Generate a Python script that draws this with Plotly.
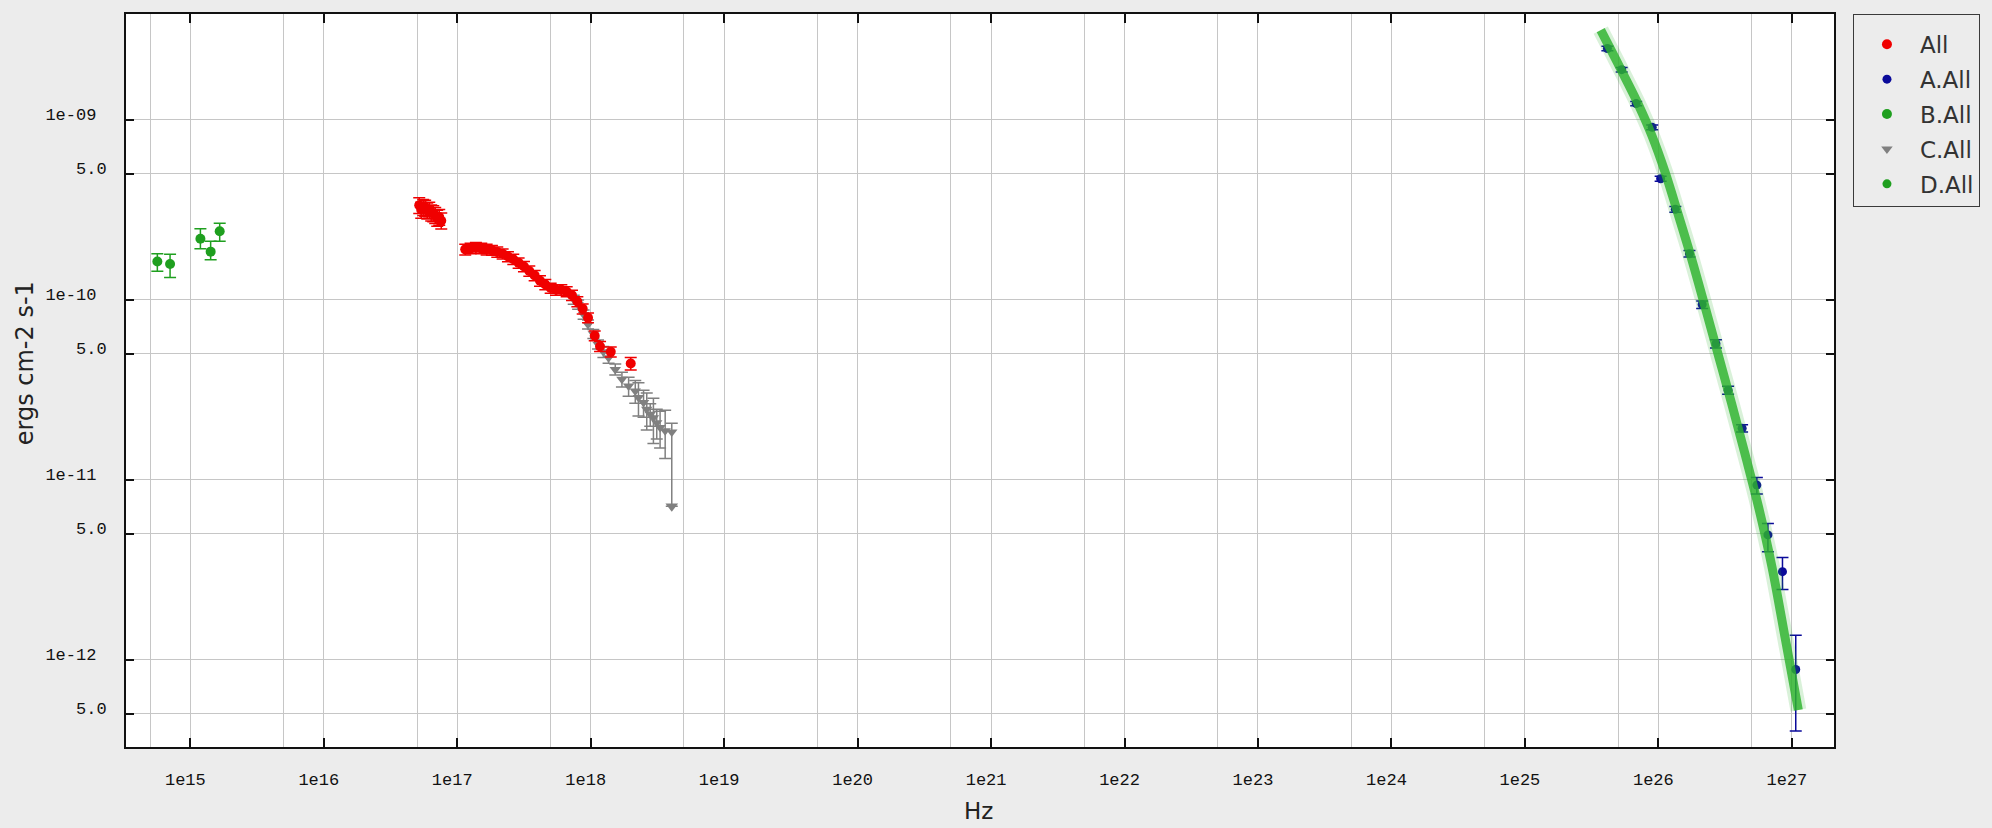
import plotly.graph_objects as go

# ---------------- data ----------------
# "All" (red) - X-ray
all_nu = [5.19e16, 5.37e16, 5.56e16, 5.75e16, 5.96e16, 6.17e16, 6.38e16, 6.61e16, 6.84e16, 7.08e16, 7.33e16, 7.59e16,
          1.148e17, 1.259e17, 1.380e17, 1.514e17, 1.660e17, 1.820e17, 1.995e17, 2.188e17, 2.399e17, 2.630e17,
          2.884e17, 3.162e17, 3.467e17, 3.802e17, 4.169e17, 4.571e17, 5.012e17, 5.495e17, 6.026e17, 6.607e17,
          7.244e17, 7.943e17, 8.710e17, 9.550e17, 1.072e18, 1.175e18, 1.413e18, 1.995e18]
all_flux = [3.35e-10, 3.16e-10, 3.27e-10, 3.24e-10, 3.13e-10, 3.16e-10, 3.05e-10, 3.02e-10, 2.95e-10, 2.85e-10, 2.88e-10, 2.75e-10,
            1.905e-10, 1.928e-10, 1.950e-10, 1.928e-10, 1.905e-10, 1.884e-10, 1.841e-10, 1.799e-10, 1.738e-10, 1.679e-10,
            1.603e-10, 1.531e-10, 1.445e-10, 1.365e-10, 1.274e-10, 1.216e-10, 1.161e-10, 1.135e-10, 1.135e-10, 1.109e-10,
            1.059e-10, 9.77e-11, 8.91e-11, 7.94e-11, 6.31e-11, 5.50e-11, 5.13e-11, 4.42e-11]
all_err = [0.34e-10, 0.32e-10, 0.33e-10, 0.33e-10, 0.32e-10, 0.32e-10, 0.31e-10, 0.31e-10, 0.30e-10, 0.29e-10, 0.29e-10, 0.28e-10,
           0.13e-10, 0.13e-10, 0.13e-10, 0.13e-10, 0.13e-10, 0.12e-10, 0.12e-10, 0.115e-10, 0.11e-10, 0.11e-10,
           0.105e-10, 0.10e-10, 0.095e-10, 0.09e-10, 0.085e-10, 0.08e-10, 0.075e-10, 0.075e-10, 0.075e-10, 0.07e-10,
           0.07e-10, 0.62e-11, 0.57e-11, 0.50e-11, 0.40e-11, 0.35e-11, 0.33e-11, 0.35e-11]

# "A.All" (blue) - gamma rays
a_nu = [4.15e25, 5.31e25, 6.82e25, 8.99e25, 1.04e26, 1.34e26, 1.71e26, 2.13e26, 2.70e26, 3.33e26,
        4.24e26, 5.47e26, 6.62e26, 8.51e26, 1.07e27]
a_flux = [2.49e-9, 1.90e-9, 1.23e-9, 9.08e-10, 4.70e-10, 3.18e-10, 1.80e-10, 9.40e-11, 5.69e-11, 3.14e-11,
          1.93e-11, 9.33e-12, 4.93e-12, 3.08e-12, 8.81e-13]
a_err_plus = [0.07e-9, 0.055e-9, 0.035e-9, 0.29e-10, 0.15e-10, 0.12e-10, 0.075e-10, 0.45e-11, 0.30e-11, 0.16e-11,
              0.09e-11, 0.95e-12, 0.78e-12, 0.61e-12, 4.84e-13]
a_err_minus = [0.07e-9, 0.055e-9, 0.035e-9, 0.29e-10, 0.15e-10, 0.12e-10, 0.075e-10, 0.45e-11, 0.30e-11, 0.16e-11,
               0.09e-11, 1.02e-12, 0.95e-12, 0.63e-12, 4.80e-13]

# "B.All" (green) - optical / UV
b_nu = [5.66e14, 7.05e14, 1.19e15, 1.42e15, 1.66e15]
b_flux = [1.63e-10, 1.58e-10, 2.18e-10, 1.85e-10, 2.40e-10]
b_err_plus = [0.17e-10, 0.21e-10, 0.30e-10, 0.26e-10, 0.26e-10]
b_err_minus = [0.19e-10, 0.25e-10, 0.26e-10, 0.18e-10, 0.29e-10]

# "C.All" (grey) - hard X-ray
c_nu = [7.46e17, 8.05e17, 8.85e17, 9.55e17, 1.047e18, 1.135e18, 1.245e18, 1.361e18, 1.528e18, 1.714e18,
        1.923e18, 2.158e18, 2.280e18, 2.489e18, 2.630e18, 2.793e18, 2.951e18, 3.126e18, 3.311e18, 3.614e18, 4.05e18]
c_flux = [1.002e-10, 9.40e-11, 8.28e-11, 7.29e-11, 6.46e-11, 5.65e-11, 5.13e-11, 4.76e-11, 4.10e-11, 3.61e-11,
          3.31e-11, 3.11e-11, 2.86e-11, 2.68e-11, 2.46e-11, 2.31e-11, 2.21e-11, 2.07e-11, 1.95e-11, 1.87e-11, 1.84e-11]
c_err_plus = [0.58e-11, 0.55e-11, 0.48e-11, 0.42e-11, 0.37e-11, 0.33e-11, 0.36e-11, 0.33e-11, 0.29e-11, 0.34e-11,
              0.40e-11, 0.45e-11, 0.60e-11, 0.46e-11, 0.57e-11, 0.33e-11, 0.62e-11, 0.39e-11, 0.45e-11, 0.56e-11, 0.22e-11]
c_err_minus = [0.58e-11, 0.55e-11, 0.48e-11, 0.42e-11, 0.37e-11, 0.33e-11, 0.36e-11, 0.33e-11, 0.29e-11, 0.34e-11,
               0.40e-11, 0.45e-11, 0.60e-11, 0.46e-11, 0.57e-11, 0.33e-11, 0.62e-11, 0.39e-11, 0.45e-11, 0.56e-11, 1.129e-11]
# upper-limit arrow head of the last grey point
c_ul_nu = [4.05e18]
c_ul_flux = [7.11e-12]

# "D.All" (green band) - model curve
d_nu = [3.70e25, 4.47e25, 5.62e25, 7.08e25, 8.91e25, 1.122e26, 1.413e26, 1.778e26, 2.239e26, 2.818e26,
        3.548e26, 4.467e26, 5.623e26, 7.079e26, 8.913e26, 1.119e27]
d_flux = [3.15e-9, 2.40e-9, 1.718e-9, 1.216e-9, 8.22e-10, 5.13e-10, 2.95e-10, 1.679e-10, 9.12e-11, 4.90e-11,
          2.63e-11, 1.380e-11, 7.08e-12, 3.31e-12, 1.318e-12, 5.24e-13]

# axis ticks
x_tickvals = [1e15, 1e16, 1e17, 1e18, 1e19, 1e20, 1e21, 1e22, 1e23, 1e24, 1e25, 1e26, 1e27]
x_ticktext = ["1e15", "1e16", "1e17", "1e18", "1e19", "1e20", "1e21", "1e22", "1e23", "1e24", "1e25", "1e26", "1e27"]
x_minorvals = [5e14, 5e15, 5e16, 5e17, 5e18, 5e19, 5e20, 5e21, 5e22, 5e23, 5e24, 5e25, 5e26]
y_tickvals = [1e-9, 5e-10, 1e-10, 5e-11, 1e-11, 5e-12, 1e-12, 5e-13]
y_ticktext = ["1e-09", "5.0", "1e-10", "5.0", "1e-11", "5.0", "1e-12", "5.0"]

# ---------------- styles ----------------
RED = "#f00000"
BLUE = "#0a0a9a"
GREEN = "#1f9f1f"
GREY = "#808080"
DGREEN = "rgba(45,178,45,0.82)"
PAPER = "#ececec"

fig = go.Figure()

def errtrace(x, y, ep, em, color, symbol, size, name, rank, showlegend=True):
    return go.Scatter(
        x=x, y=y, mode="markers", name=name, legendrank=rank, legendgroup=name,
        showlegend=showlegend,
        marker=dict(color=color, symbol=symbol, size=size, line=dict(width=0)),
        error_y=dict(type="data", array=ep, arrayminus=em, symmetric=False,
                     color=color, thickness=1.5, width=6),
    )

fig.add_trace(errtrace(b_nu, b_flux, b_err_plus, b_err_minus, GREEN, "circle", 10, "B.All", 3))
fig.add_trace(errtrace(c_nu, c_flux, c_err_plus, c_err_minus, GREY, "triangle-down", 10, "C.All", 4))
fig.add_trace(go.Scatter(x=c_ul_nu, y=c_ul_flux, mode="markers", showlegend=False, legendgroup="C.All",
                         marker=dict(color=GREY, symbol="triangle-down", size=11)))
fig.add_trace(errtrace(all_nu, all_flux, all_err, all_err, RED, "circle", 10, "All", 1))
fig.add_trace(errtrace(a_nu, a_flux, a_err_plus, a_err_minus, BLUE, "circle", 9, "A.All", 2))
# green model band (glow + core)
fig.add_trace(go.Scatter(x=d_nu, y=d_flux, mode="lines", showlegend=False, legendgroup="D.All",
                         line=dict(color="rgba(45,178,45,0.18)", width=16, shape="spline", smoothing=1.0)))
fig.add_trace(go.Scatter(x=d_nu, y=d_flux, mode="lines", showlegend=False, legendgroup="D.All",
                         line=dict(color=DGREEN, width=9, shape="spline", smoothing=1.0)))
# legend entry for D.All
fig.add_trace(go.Scatter(x=[None], y=[None], mode="markers", name="D.All", legendrank=5, legendgroup="D.All",
                         marker=dict(color=GREEN, symbol="circle", size=9)))

tickfont = dict(family="Liberation Mono", size=17, color="#111111")

fig.update_layout(
    width=1992, height=828,
    margin=dict(l=126, r=153, t=12, b=81),
    paper_bgcolor=PAPER, plot_bgcolor="white",
    showlegend=True,
    legend=dict(x=1.0111, y=1.0, xanchor="left", yanchor="top",
                bgcolor=PAPER, bordercolor="#3a3a3a", borderwidth=1,
                font=dict(family="DejaVu Sans", size=23, color="#333333"),
                title=dict(text="\u00a0", font=dict(size=6)),
                itemwidth=56, traceorder="grouped", tracegroupgap=2),
    xaxis=dict(type="log", range=[14.518, 27.316],
               tickmode="array", tickvals=x_tickvals, ticktext=x_ticktext,
               ticks="inside", ticklen=9, tickwidth=1.5, tickcolor="#111",
               showline=True, linecolor="#111", linewidth=2, mirror="ticks",
               showgrid=True, gridcolor="#c6c6c6", gridwidth=1,
               minor=dict(tickmode="array", tickvals=x_minorvals, showgrid=True,
                          gridcolor="#c6c6c6", gridwidth=1, ticks=""),
               tickfont=tickfont, ticklabelstandoff=16, ticklabelshift=-5,
               zeroline=False),
    yaxis=dict(type="log", range=[-12.486, -8.412],
               tickmode="array", tickvals=y_tickvals,
               ticktext=[t + "\u00a0" if t.startswith("1e") else t for t in y_ticktext],
               ticks="inside", ticklen=8, tickwidth=1.5, tickcolor="#111",
               showline=True, linecolor="#111", linewidth=2, mirror="ticks",
               showgrid=True, gridcolor="#c6c6c6", gridwidth=1,
               tickfont=tickfont, ticklabelstandoff=14, ticklabelshift=-6,
               zeroline=False),
    annotations=[
        dict(text="ergs cm-2 s-1", xref="paper", yref="paper", x=-0.0593, y=0.5231,
             xanchor="center", yanchor="middle", textangle=-90, showarrow=False,
             font=dict(family="DejaVu Sans", size=24, color="#222222")),
        dict(text="Hz", xref="paper", yref="paper", x=0.4991, y=-0.0871,
             xanchor="center", yanchor="middle", showarrow=False,
             font=dict(family="DejaVu Sans", size=23, color="#222222")),
    ],
)

fig.write_html("out.html")
